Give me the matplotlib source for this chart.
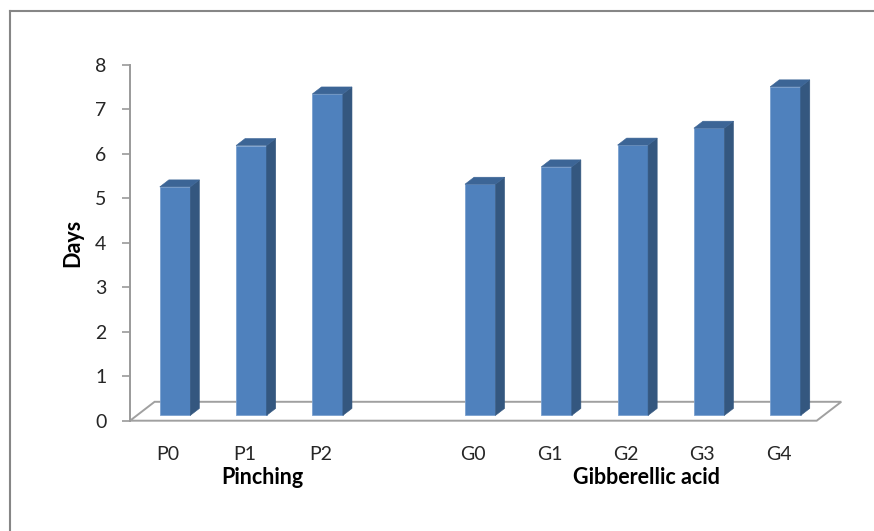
import matplotlib
matplotlib.use("Agg")
import matplotlib.pyplot as plt
from matplotlib.patches import Polygon
from matplotlib.lines import Line2D
import numpy as np

# Days per treatment
categories = ["P0", "P1", "P2", "G0", "G1", "G2", "G3", "G4"]
values = [5.14, 6.07, 7.23, 5.20, 5.59, 6.08, 6.46, 7.39]
# slot index of each category on the floor (slot 3 is left empty between groups)
slots = [0, 1, 2, 4, 5, 6, 7, 8]
n_slots = 9
groups = ["Pinching", "Gibberellic acid"]
group_x = [1.74, 6.77]
yticks = [0, 1, 2, 3, 4, 5, 6, 7, 8]
ylabel = "Days"

plt.rcParams["font.family"] = ["Lato", "DejaVu Sans"]

W, H = 874, 531
fig = plt.figure(figsize=(W / 100, H / 100), dpi=100)
ax = fig.add_axes([130 / W, (H - 420.7) / H, 686.7 / W, 355.7 / H])
ax.set_xlim(0, n_slots)
ax.set_ylim(0, 8)

# oblique depth vector of the floor (data units) and bar placement in depth
depth_dx, depth_dy = 0.322, 0.425
d_front, d_bar = 0.28, 0.37
bar_w = 0.40

front = "#4f81bd"
side = "#34577f"
top = "#3c6596"
edge = "#7aa0cf"
grey = "#a0a0a0"

# floor parallelogram
floor = Polygon([(0, 0), (n_slots, 0), (n_slots + depth_dx, depth_dy), (depth_dx, depth_dy)],
                closed=True, facecolor="white", edgecolor=grey, linewidth=1.4,
                clip_on=False, zorder=1)
ax.add_patch(floor)

x_c = np.array(slots) + 0.5
vals = np.array(values)
x_left = x_c - bar_w / 2 + d_front * depth_dx
base = d_front * depth_dy
ddx, ddy = d_bar * depth_dx, d_bar * depth_dy

ax.bar(x_left, vals, width=bar_w, bottom=base, align="edge", color=front,
       edgecolor=edge, linewidth=0.6, zorder=3, clip_on=False)
for xl, v in zip(x_left, vals):
    xr = xl + bar_w
    ax.add_patch(Polygon([(xr, base), (xr + ddx, base + ddy), (xr + ddx, base + v + ddy), (xr, base + v)],
                         closed=True, facecolor=side, edgecolor=side, linewidth=0.4,
                         zorder=3, clip_on=False))
    ax.add_patch(Polygon([(xl, base + v), (xr, base + v), (xr + ddx, base + v + ddy), (xl + ddx, base + v + ddy)],
                         closed=True, facecolor=top, edgecolor=top, linewidth=0.4,
                         zorder=3, clip_on=False))

# axes styling
for s in ["top", "right", "bottom"]:
    ax.spines[s].set_visible(False)
ax.spines["left"].set_color("#9a9a9a")
ax.spines["left"].set_linewidth(1.4)
ax.set_xticks([])
ax.set_yticks(yticks)
ax.set_yticklabels([str(t) for t in yticks], fontsize=14, color="#262626")
ax.tick_params(axis="y", direction="out", length=6, width=1.2, color="#9a9a9a", pad=11)
ax.patch.set_visible(False)

ax.text(-0.75, 4.0, ylabel, rotation=90, ha="center", va="center",
        fontsize=15.5, fontweight="bold", color="black", transform=ax.transData, clip_on=False)

for xc, lab in zip(x_c, categories):
    ax.text(xc, -0.75, lab, ha="center", va="center", fontsize=14, color="#262626", clip_on=False)
for gx, g in zip(group_x, groups):
    ax.text(gx, -1.27, g, ha="center", va="center", fontsize=15.5, fontweight="bold",
            color="black", clip_on=False)

# chart area frame
fig.add_artist(Line2D([10 / W, 10 / W], [0, 1 - 11 / H], transform=fig.transFigure,
                      color="#868686", linewidth=1.5))
fig.add_artist(Line2D([10 / W, 1], [1 - 11 / H, 1 - 11 / H], transform=fig.transFigure,
                      color="#868686", linewidth=1.5))

fig.savefig("out.png", dpi=100)
